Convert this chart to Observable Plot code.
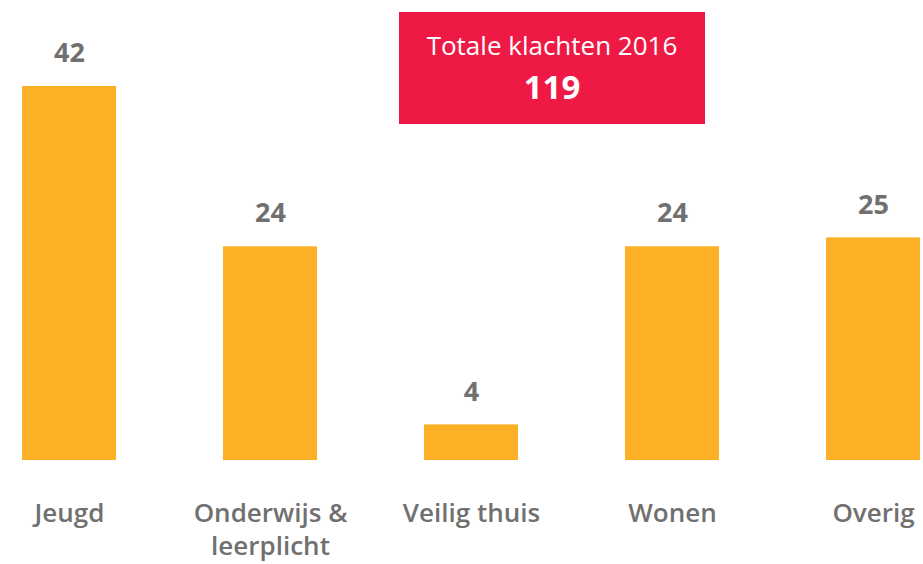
<!DOCTYPE html>
<html>
<head>
<meta charset="utf-8">
<script src="https://cdn.jsdelivr.net/npm/d3@7"></script>
<script src="https://cdn.jsdelivr.net/npm/@observablehq/plot@0.6"></script>
<style>
  html, body { margin: 0; padding: 0; background: #fff; }
  #wrap { position: relative; width: 923px; height: 564px; overflow: hidden; }
  #total {
    position: absolute; left: 399px; top: 12px; width: 306px; height: 112px;
    background: #ee1944; color: #fff; text-align: center;
    font-family: "Open Sans", Lato, sans-serif;
  }
  #total .t { font-size: 26px; margin-top: 17px; line-height: 32px; }
  #total .n { font-size: 33px; font-weight: bold; line-height: 40px; margin-top: 6px; }
</style>
</head>
<body>
<div id="wrap"></div>
<script>
const categories = ["Jeugd", "Onderwijs &\nleerplicht", "Veilig thuis", "Wonen", "Overig"];
const values = [42, 24, 4, 24, 25];
const totalTitle = "Totale klachten 2016";

const data = categories.map((c, i) => ({category: c, value: values[i]}));
const gray = "#707070";

const chart = Plot.plot({
  width: 923,
  height: 564,
  marginLeft: 21,
  marginRight: 2,
  marginTop: 86,
  marginBottom: 104,
  style: {fontFamily: "'Open Sans', Lato, sans-serif", background: "#fff"},
  x: {domain: categories, paddingInner: 0.532, paddingOuter: 0, label: null},
  y: {domain: [0, 42], axis: null},
  marks: [
    Plot.barY(data, {x: "category", y: "value", fill: "#fbb026"}),
    Plot.text(data, {x: "category", y: "value", text: d => String(d.value), dy: -33,
      fill: gray, fontSize: 27, fontWeight: "bold"}),
    Plot.axisX({tickSize: 0, tickPadding: 38, fontSize: 26, fontWeight: 600,
      fill: gray, lineHeight: 1.28, label: null})
  ]
});
const wrap = document.getElementById("wrap");
wrap.appendChild(chart);
const box = document.createElement("div");
box.id = "total";
box.innerHTML = `<div class="t">${totalTitle}</div><div class="n">${d3.sum(values)}</div>`;
wrap.appendChild(box);
</script>
</body>
</html>
